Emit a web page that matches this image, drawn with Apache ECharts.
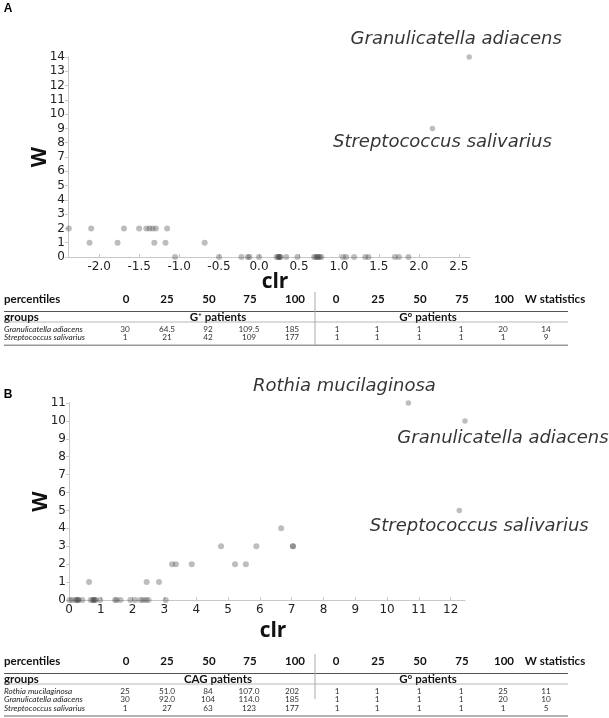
<!DOCTYPE html>
<html><head><meta charset="utf-8">
<script src="https://cdn.jsdelivr.net/npm/echarts@6/dist/echarts.min.js"></script>
<style>html,body{margin:0;padding:0;background:#fff}#c{width:609px;height:718px}</style>
</head><body><div id="c"></div>
<script>
// ---------------- Panel A data ----------------
const aXTicks = [-2.0, -1.5, -1.0, -0.5, 0.0, 0.5, 1.0, 1.5, 2.0, 2.5];
const aClr = [-2.38, -2.10, -1.69, -1.50, -1.41, -1.37, -1.33, -1.29, -1.15,
  -2.12, -1.77, -1.31, -1.17, -0.68,
  -1.05, -0.50, -0.22, -0.14, -0.12, 0.00, 0.22, 0.24, 0.25, 0.26, 0.27, 0.34, 0.48,
  0.69, 0.71, 0.73, 0.74, 0.76, 0.78, 1.05, 1.09, 1.19, 1.33, 1.37, 1.70, 1.75, 1.87];
const aW = [2, 2, 2, 2, 2, 2, 2, 2, 2,
  1, 1, 1, 1, 1,
  0, 0, 0, 0, 0, 0, 0, 0, 0, 0, 0, 0, 0,
  0, 0, 0, 0, 0, 0, 0, 0, 0, 0, 0, 0, 0, 0];
const aHiNames = ['Granulicatella adiacens', 'Streptococcus salivarius'];
const aHiClr = [2.63, 2.17];
const aHiW = [14, 9];

// ---------------- Panel B data ----------------
const bXTicks = [0, 1, 2, 3, 4, 5, 6, 7, 8, 9, 10, 11, 12];
const bClr = [0.02, 0.10, 0.20, 0.26, 0.28, 0.30, 0.42, 0.68, 0.75, 0.78, 0.80, 0.84, 0.98,
  1.45, 1.50, 1.62, 1.93, 2.08, 2.25, 2.33, 2.42, 2.50, 3.04,
  0.63, 2.44, 2.83,
  3.24, 3.36, 3.86, 5.22, 5.56,
  4.78, 5.89, 7.04, 7.04,
  6.67];
const bW = [0, 0, 0, 0, 0, 0, 0, 0, 0, 0, 0, 0, 0,
  0, 0, 0, 0, 0, 0, 0, 0, 0, 0,
  1, 1, 1,
  2, 2, 2, 2, 2,
  3, 3, 3, 3,
  4];
const bHiNames = ['Rothia mucilaginosa', 'Granulicatella adiacens', 'Streptococcus salivarius'];
const bHiClr = [10.67, 12.45, 12.27];
const bHiW = [11, 10, 5];

// ---------------- Tables ----------------
const percentileLabels = ['0', '25', '50', '75', '100'];
const tableA_group1 = 'G\u207A patients';
const tableA_group2 = 'G\u00B0 patients';
const tableA_names = ['Granulicatella adiacens', 'Streptococcus salivarius'];
const tableA_left = [['30', '64.5', '92', '109.5', '185'], ['1', '21', '42', '109', '177']];
const tableA_right = [['1', '1', '1', '1', '20'], ['1', '1', '1', '1', '1']];
const tableA_w = ['14', '9'];

const tableB_group1 = 'CAG patients';
const tableB_group2 = 'G\u00B0 patients';
const tableB_names = ['Rothia mucilaginosa', 'Granulicatella adiacens', 'Streptococcus salivarius'];
const tableB_left = [['25', '51.0', '84', '107.0', '202'], ['30', '92.0', '104', '114.0', '185'], ['1', '27', '63', '123', '177']];
const tableB_right = [['1', '1', '1', '1', '25'], ['1', '1', '1', '1', '20'], ['1', '1', '1', '1', '1']];
const tableB_w = ['11', '10', '5'];

// ---------------- layout / style ----------------
const DOT = 'rgba(60,60,60,0.42)';
const AXIS = '#c8c8c8';
const TICKF = 'DejaVu Sans';
const TF = 'Lato';
const hdrCols = [126, 167, 209, 250, 295, 336, 378, 420, 462, 504, 555];
const datCols = [125, 167, 208, 249, 292, 337, 377, 419, 461, 503, 546];
const aLabelOffsets = [[-13, -18], [10, 14]];
const bLabelOffsets = [[-64, -17], [38, 17], [20, 16]];

function pts(xs, ys) { return xs.map((x, i) => [x, ys[i]]); }
function hiPts(xs, ys, names, offs) {
  return xs.map((x, i) => ({ value: [x, ys[i]], name: names[i], label: { offset: offs[i] } }));
}

function T(x, y, text, o) {
  o = o || {};
  return {
    type: 'text', x: x, y: y, silent: true,
    style: {
      text: text, fill: o.fill || '#222',
      fontFamily: o.family || TF, fontSize: o.size || 8,
      fontWeight: o.weight || 'normal', fontStyle: o.style || 'normal',
      align: o.align || 'center', textAlign: o.align || 'center',
      verticalAlign: 'middle', textVerticalAlign: 'middle'
    }
  };
}
function L(x1, y1, x2, y2, color, w) {
  return { type: 'line', silent: true, shape: { x1: x1, y1: y1, x2: x2, y2: y2 }, style: { stroke: color, lineWidth: w } };
}

function table(y, g1, g2, names, left, right, w, vBottom) {
  const yH = y, yL1 = y + 12.5, yG = y + 18, yL2 = y + 23, y0 = y + 30, dy = 8.7;
  const yB = y0 + (names.length - 1) * dy + 7.5;
  const els = [];
  const hb = { weight: 'bold', size: 11.5, fill: '#111' };
  els.push(T(4, yH, 'percentiles', Object.assign({ align: 'left' }, hb)));
  percentileLabels.forEach((p, i) => {
    els.push(T(hdrCols[i], yH, p, hb));
    els.push(T(hdrCols[i + 5], yH, p, hb));
  });
  els.push(T(hdrCols[10], yH, 'W statistics', hb));
  els.push(L(4, yL1, 568, yL1, '#555', 1));
  els.push(T(4, yG, 'groups', Object.assign({ align: 'left' }, hb)));
  els.push(T(218, yG, g1, hb));
  els.push(T(428, yG, g2, hb));
  els.push(L(4, yL2, 568, yL2, '#999', 0.7));
  names.forEach((n, r) => {
    const yy = y0 + r * dy;
    els.push(T(4, yy, n, { align: 'left', style: 'italic', fill: '#222', size: 8.2 }));
    left[r].forEach((v, i) => els.push(T(datCols[i], yy, v, { fill: '#333', size: 8.2 })));
    right[r].forEach((v, i) => els.push(T(datCols[i + 5], yy, v, { fill: '#333', size: 8.2 })));
    els.push(T(datCols[10], yy, w[r], { fill: '#333', size: 8.2 }));
  });
  els.push(L(4, yB, 568, yB, '#999', 1.5));
  els.push(L(315, y - 7, 315, vBottom === undefined ? yB : vBottom, '#aaa', 1));
  return els;
}

function xAxisCfg(grid, min, max, ticks, fmt, nameY) {
  return {
    type: 'value', gridIndex: grid, min: min, max: max,
    name: 'clr', nameLocation: 'middle', nameGap: nameY, nameMoveOverlap: false,
    nameTextStyle: { fontFamily: 'Open Sans', fontWeight: 'bold', fontSize: 21, color: '#111', padding: [0, 0, 0, 12] },
    axisLine: { show: true, onZero: false, lineStyle: { color: AXIS, width: 1 } },
    axisTick: { show: true, inside: true, length: 3, customValues: ticks, lineStyle: { color: AXIS } },
    axisLabel: { customValues: ticks, formatter: fmt, fontFamily: TICKF, fontSize: 12, color: '#222', margin: 4 },
    splitLine: { show: false }
  };
}
function yAxisCfg(grid, max) {
  return {
    type: 'value', gridIndex: grid, min: 0, max: max, interval: 1,
    name: 'W', nameLocation: 'middle', nameGap: 17, nameMoveOverlap: false,
    nameTextStyle: { fontFamily: 'Open Sans', fontWeight: 'bold', fontSize: 21, color: '#111' },
    axisLine: { show: true, onZero: false, lineStyle: { color: AXIS, width: 1 } },
    axisTick: { show: true, length: 3, lineStyle: { color: AXIS } },
    axisLabel: { fontFamily: TICKF, fontSize: 12, color: '#222', margin: 3 },
    splitLine: { show: false }
  };
}
const hiLabel = {
  show: true, position: 'inside', formatter: '{b}',
  fontFamily: 'DejaVu Sans', fontStyle: 'italic', fontSize: 18, color: '#000'
};

const chart = echarts.init(document.getElementById('c'), null, { renderer: 'canvas' });
chart.setOption({
  backgroundColor: '#fff',
  animation: false,
  grid: [
    { left: 68, top: 57, width: 402, height: 200 },
    { left: 69, top: 403, width: 396, height: 197 }
  ],
  xAxis: [
    xAxisCfg(0, -2.39, 2.64, aXTicks, v => v.toFixed(1), 15),
    xAxisCfg(1, 0, 12.45, bXTicks, v => String(Math.round(v)), 21)
  ],
  yAxis: [yAxisCfg(0, 14), yAxisCfg(1, 11)],
  series: [
    { type: 'scatter', xAxisIndex: 0, yAxisIndex: 0, data: pts(aClr, aW), symbolSize: 6, itemStyle: { color: DOT } },
    { type: 'scatter', xAxisIndex: 0, yAxisIndex: 0, data: hiPts(aHiClr, aHiW, aHiNames, aLabelOffsets), symbolSize: 5.5, itemStyle: { color: DOT }, label: hiLabel },
    { type: 'scatter', xAxisIndex: 1, yAxisIndex: 1, data: pts(bClr, bW), symbolSize: 6, itemStyle: { color: DOT } },
    { type: 'scatter', xAxisIndex: 1, yAxisIndex: 1, data: hiPts(bHiClr, bHiW, bHiNames, bLabelOffsets), symbolSize: 5.5, itemStyle: { color: DOT }, label: hiLabel }
  ],
  graphic: [
    T(8, 9, 'A', { weight: 'bold', size: 12, fill: '#000', family: 'Liberation Sans' }),
    T(8, 395, 'B', { weight: 'bold', size: 12, fill: '#000', family: 'Liberation Sans' })
  ].concat(
    table(299, tableA_group1, tableA_group2, tableA_names, tableA_left, tableA_right, tableA_w),
    table(661, tableB_group1, tableB_group2, tableB_names, tableB_left, tableB_right, tableB_w, 699)
  )
});
</script></body></html>
